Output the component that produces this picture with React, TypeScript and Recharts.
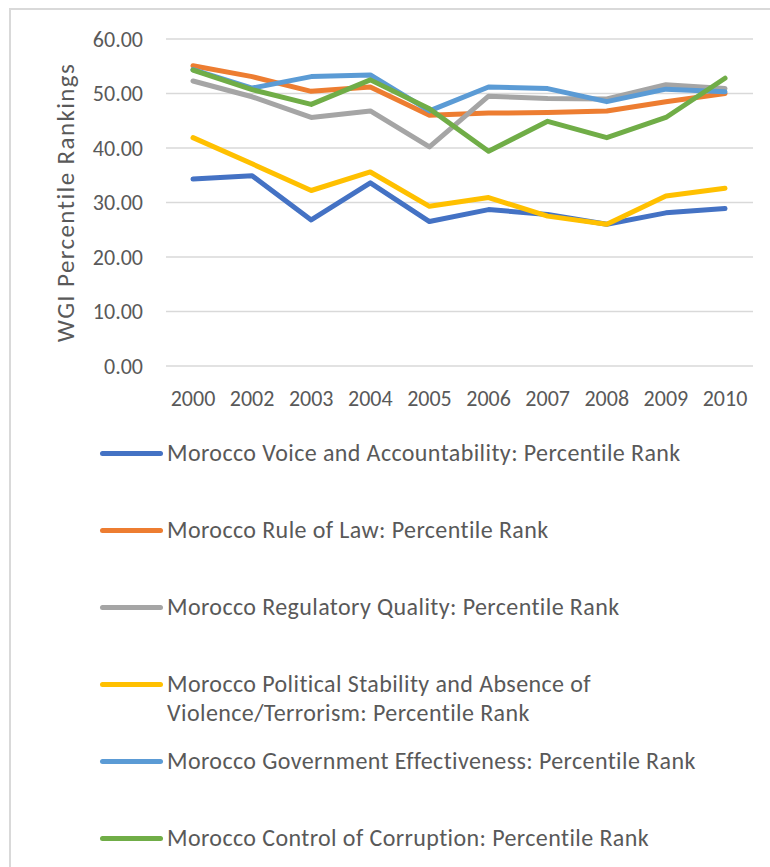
import React from "react";
import { LineChart, Line, XAxis, YAxis, CartesianGrid, Legend } from "recharts";

const years = ["2000", "2002", "2003", "2004", "2005", "2006", "2007", "2008", "2009", "2010"];

const voice = [34.3, 34.9, 26.8, 33.6, 26.5, 28.7, 27.8, 26.0, 28.1, 28.9];
const ruleOfLaw = [55.1, 53.1, 50.4, 51.2, 46.0, 46.4, 46.5, 46.8, 48.5, 50.0];
const regulatory = [52.3, 49.4, 45.6, 46.8, 40.2, 49.5, 49.1, 49.0, 51.6, 50.9];
const political = [41.9, 37.1, 32.2, 35.6, 29.3, 30.9, 27.5, 26.0, 31.2, 32.6];
const government = [54.4, 51.0, 53.1, 53.4, 46.8, 51.2, 50.9, 48.5, 50.8, 50.3];
const corruption = [54.3, 50.7, 48.0, 52.5, 47.2, 39.4, 44.9, 41.9, 45.6, 52.8];

const yTicks = [0, 10, 20, 30, 40, 50, 60];

const seriesMeta = [
  { key: "voice", name: "Morocco Voice and Accountability: Percentile Rank", color: "#4472C4", values: voice },
  { key: "rule", name: "Morocco Rule of Law: Percentile Rank", color: "#ED7D31", values: ruleOfLaw },
  { key: "reg", name: "Morocco Regulatory Quality: Percentile Rank", color: "#A5A5A5", values: regulatory },
  {
    key: "pol",
    name: "Morocco Political Stability and Absence of Violence/Terrorism: Percentile Rank",
    color: "#FFC000",
    values: political,
  },
  { key: "gov", name: "Morocco Government Effectiveness: Percentile Rank", color: "#5B9BD5", values: government },
  { key: "cor", name: "Morocco Control of Corruption: Percentile Rank", color: "#70AD47", values: corruption },
];

const data = years.map((year, i) => {
  const row: Record<string, string | number> = { year };
  seriesMeta.forEach((s) => {
    row[s.key] = s.values[i];
  });
  return row;
});

const FONT = "Carlito, Lato, 'Open Sans', sans-serif";
const TEXT = "#595959";

function LegendBox({ payload }: any) {
  // keep the series order (recharts 3 hands the payload back reversed)
  const order = seriesMeta.map((s) => s.name);
  const items = [...(payload || [])].sort((a: any, b: any) => order.indexOf(a.value) - order.indexOf(b.value));
  return (
    <div style={{ fontFamily: FONT, fontSize: 24, letterSpacing: 0.4, color: TEXT }}>
      {items.map((p: any) => (
        <div key={p.value} style={{ display: "flex", alignItems: "flex-start", height: 77 }}>
          <div
            style={{
              width: 63,
              height: 5,
              borderRadius: 3,
              background: p.color,
              marginLeft: 100,
              marginTop: 13,
              marginRight: 4,
              flexShrink: 0,
            }}
          />
          <div style={{ lineHeight: "29px", maxWidth: 570 }}>{p.value}</div>
        </div>
      ))}
    </div>
  );
}

function AxisTitle({ viewBox }: any) {
  const cy = viewBox ? viewBox.y + viewBox.height / 2 : 202;
  return (
    <text
      x={65}
      y={cy}
      transform={`rotate(-90, 65, ${cy})`}
      textAnchor="middle"
      dominantBaseline="central"
      fill={TEXT}
      fontSize={25}
      letterSpacing={1.4}
      fontFamily={FONT}
    >
      WGI Percentile Rankings
    </text>
  );
}

export default function App() {
  return (
    <div style={{ position: "absolute", left: 0, top: 0, width: 770, height: 867, background: "#fff", overflow: "hidden" }}>
      <div
        style={{
          position: "absolute",
          left: 9,
          top: 8,
          width: 780,
          height: 880,
          borderTop: "2px solid #d9d9d9",
          borderLeft: "2px solid #d9d9d9",
        }}
      />
      <div style={{ position: "absolute", left: 0, top: 0 }}>
        <LineChart width={770} height={867} data={data} margin={{ top: 39, right: 17, bottom: 447, left: 0 }}>
          <CartesianGrid vertical={false} stroke="#d9d9d9" strokeWidth={1.5} />
          <XAxis
            dataKey="year"
            axisLine={false}
            tickLine={false}
            tickSize={0}
            tickMargin={24}
            height={54}
            interval={0}
            padding={{ left: 27, right: 28 }}
            tick={{ fill: TEXT, fontSize: 22, fontFamily: FONT }}
          />
          <YAxis
            domain={[0, 60]}
            ticks={yTicks}
            width={166}
            axisLine={false}
            tickLine={false}
            tickSize={0}
            tickMargin={23}
            tickFormatter={(v: number) => v.toFixed(2)}
            tick={{ fill: TEXT, fontSize: 22, fontFamily: FONT }}
            label={<AxisTitle />}
          />
          <Legend
            layout="vertical"
            align="center"
            verticalAlign="middle"
            content={<LegendBox />}
            wrapperStyle={{ top: 438, left: 0, width: 770 }}
          />
          {seriesMeta.map((s) => (
            <Line
              key={s.key}
              type="linear"
              dataKey={s.key}
              name={s.name}
              stroke={s.color}
              strokeWidth={5}
              strokeLinecap="round"
              strokeLinejoin="round"
              dot={false}
              activeDot={false}
              isAnimationActive={false}
            />
          ))}
        </LineChart>
      </div>
    </div>
  );
}
